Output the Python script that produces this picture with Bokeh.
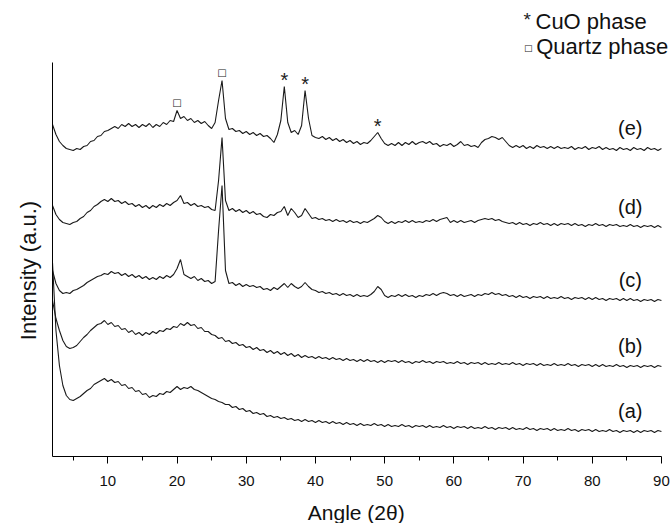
import numpy as np
from bokeh.plotting import figure
from bokeh.models import FixedTicker, ColumnDataSource, Label
from bokeh.core.properties import value
from bokeh.embed import file_html
from bokeh.resources import INLINE

# 2-theta sampling grid (degrees), 0.5 deg steps from 2 to 90
angle = np.arange(2.0, 90.0001, 0.5)

# Intensities (a.u.), one value per grid point
int_a = [194,126,91,71,61,57,56,58,60,63,
         66,68,72,74,76,78,75,77,74,75,
         71,72,68,69,65,66,62,63,59,61,
         60,63,62,65,64,67,70,67,69,68,
         70,67,66,64,62,60,58,57,55,54,
         52,52,49,50,47,48,45,46,43,44,
         42,43,40,41,39,40,38,39,37,38,
         36,37,35,37,35,36,34,36,34,35,
         33,35,33,34,32,34,32,33,31,33,
         31,32,31,33,31,32,30,32,30,31,
         30,32,30,31,29,31,30,31,29,31,
         29,30,29,31,29,30,28,30,29,30,
         28,30,28,29,28,30,28,29,27,29,
         28,29,27,29,27,28,27,29,27,28,
         26,28,27,28,26,28,26,27,26,28,
         26,27,25,27,26,27,25,27,25,26,
         25,27,25,26,24,26,25,26,24,26,
         24,26,25,26,24,26,25]

int_b = [156,138,126,116,110,108,109,111,115,119,
         122,126,129,132,133,136,132,134,130,131,
         127,128,124,126,122,124,121,124,122,125,
         123,126,125,128,127,130,129,133,131,134,
         131,132,128,129,125,125,122,121,118,119,
         115,116,113,114,111,112,109,110,107,109,
         106,107,104,106,103,105,102,104,101,103,
         100,102,99,101,99,100,98,100,98,99,
         97,99,97,98,96,98,96,97,95,97,
         95,97,95,96,94,96,94,96,95,96,
         94,96,94,95,93,95,94,96,94,95,
         93,95,94,95,93,94,93,95,93,94,
         92,94,93,94,92,94,92,93,92,94,
         92,93,92,94,92,93,91,93,92,93,
         91,93,91,92,91,93,91,92,91,93,
         91,92,90,92,91,92,90,92,90,92,
         90,91,90,92,90,91,89,91,90,91,
         89,91,90,91,89,91,90]

int_c = [186,173,166,163,164,163,166,167,169,171,
         174,176,178,180,181,183,182,185,183,184,
         181,183,180,182,179,181,178,180,177,179,
         177,180,178,181,179,182,188,197,182,180,
         178,180,176,178,175,176,173,175,226,271,
         186,173,174,171,173,170,172,170,171,169,
         170,167,168,166,169,167,170,173,169,173,
         170,168,170,174,170,167,166,164,165,163,
         164,162,163,161,163,161,162,160,162,160,
         161,160,162,165,170,167,161,159,161,160,
         162,160,162,160,161,159,161,160,162,161,
         163,161,163,164,163,161,162,160,162,160,
         161,162,160,162,161,163,162,164,162,163,
         161,162,160,161,159,161,159,160,158,160,
         159,160,158,160,158,159,158,160,158,159,
         157,159,158,159,157,159,157,159,157,158,
         156,158,157,158,156,158,156,158,156,157,
         155,157,156,157,155,157,156]

int_d = [251,242,237,234,233,232,234,235,238,240,
         244,246,250,252,255,257,255,258,255,256,
         253,255,252,253,250,252,249,251,248,251,
         249,252,250,253,251,254,256,261,253,254,
         251,253,250,251,249,250,247,246,276,319,
         256,246,248,245,247,244,246,243,245,242,
         243,240,239,242,241,244,245,250,241,248,
         244,239,241,248,243,238,239,237,238,236,
         237,235,237,235,236,234,236,234,235,233,
         235,234,236,238,241,239,235,233,235,233,
         235,234,236,234,236,234,235,234,236,235,
         237,235,237,238,239,234,236,234,236,234,
         235,236,234,236,237,238,237,238,236,237,
         235,234,233,234,232,234,232,233,231,233,
         232,234,232,233,231,233,231,233,232,233,
         231,233,231,232,230,232,231,233,231,232,
         230,232,231,232,230,231,230,232,230,231,
         229,231,230,231,229,231,229]

int_e = [332,322,315,311,308,307,306,308,307,310,
         311,315,316,320,321,325,326,328,330,328,
         332,330,333,330,332,329,332,330,333,329,
         332,330,334,332,336,335,346,338,340,336,
         338,334,336,333,335,331,328,334,356,376,
         338,327,328,325,326,323,325,322,324,321,
         323,320,321,318,314,322,336,370,334,324,
         326,322,331,366,338,321,319,318,320,317,
         319,316,318,315,317,314,316,313,315,312,
         314,313,316,320,324,318,313,311,313,311,
         314,311,314,312,315,312,314,315,313,315,
         312,313,310,312,311,313,310,312,315,311,
         312,310,311,309,314,317,318,320,319,317,
         319,315,311,309,311,309,311,308,310,308,
         311,309,310,308,310,308,310,308,309,308,
         310,307,309,308,310,307,309,308,310,307,
         309,307,308,306,309,307,308,306,309,307,
         308,306,309,307,308,306,308]

series = [int_a, int_b, int_c, int_d, int_e]
series_labels = ["(a)", "(b)", "(c)", "(d)", "(e)"]

# phase marks on pattern (e)
quartz_peaks = [20.0, 26.5]
cuo_peaks = [35.5, 38.5, 49.0]

x_ticks = [10, 20, 30, 40, 50, 60, 70, 80, 90]
x_minor = [5, 15, 25, 35, 45, 55, 65, 75, 85]

X_DATA = (2, 90)
Y_AXIS_TOP = 394

FONT = "Liberation Sans"
LINE = "#1a1a1a"
TXT = "#111111"

# the plot frame covers the whole page; axes are drawn at fixed data locations
p = figure(frame_width=670, frame_height=523, x_range=(-5.514, 91.31), y_range=(-67, 456),
           output_backend="svg", toolbar_location=None, min_border=0,
           background_fill_color="white", border_fill_color="white")
p.outline_line_color = None
p.grid.visible = False

for s in series:
    p.line(angle, s, line_color=LINE, line_width=1.1)

# series labels, a little above the right end of each pattern
lab_src = ColumnDataSource(dict(x=[85.5] * len(series), y=[s[-1] for s in series],
                                t=series_labels))
p.text(x="x", y="y", text="t", source=lab_src, text_font=value(FONT),
       text_font_size="20px", text_align="center", text_baseline="middle",
       y_offset=-21, text_color=TXT)

def peak_val(xv, s):
    i = int(np.argmin(np.abs(angle - xv)))
    return s[i]

qy = [peak_val(x, int_e) for x in quartz_peaks]
cy = [peak_val(x, int_e) for x in cuo_peaks]
q_src = ColumnDataSource(dict(x=quartz_peaks, y=qy))
p.text(x="x", y="y", text=value("\u25a1"), source=q_src, text_font=value("DejaVu Sans"),
       text_font_size="10px", text_align="center", text_baseline="bottom",
       y_offset=-3, text_color="#222222")
c_src = ColumnDataSource(dict(x=cuo_peaks, y=cy))
p.text(x="x", y="y", text=value("*"), source=c_src, text_font=value(FONT),
       text_font_size="20px", text_align="center", text_baseline="bottom",
       y_offset=4, text_color="#222222")

# legend (top right)
p.add_layout(Label(x=70.6, y=434, text="*", text_font=FONT, text_font_size="19px",
                   text_align="center", text_baseline="middle", y_offset=3,
                   text_color="#222222"))
p.add_layout(Label(x=71.8, y=435, text="CuO phase", text_font=FONT, text_font_size="22px",
                   text_align="left", text_baseline="middle", text_color=TXT))
p.add_layout(Label(x=70.75, y=409, text="\u25a1", text_font="DejaVu Sans", text_font_size="9px",
                   text_align="center", text_baseline="middle", text_color="#222222"))
p.add_layout(Label(x=71.9, y=410, text="Quartz phase", text_font=FONT, text_font_size="22px",
                   text_align="left", text_baseline="middle", text_color=TXT))

# axis titles
p.add_layout(Label(x=45.9, y=-56, text="Angle (2\u03b8)", text_font=FONT,
                   text_font_size="21px", text_align="center", text_baseline="middle",
                   text_color=TXT))
p.add_layout(Label(x=-1.5, y=186, text="Intensity (a.u.)", text_font=FONT,
                   text_font_size="22px", text_align="center", text_baseline="middle",
                   angle=np.pi / 2, text_color=TXT))

# axes
xa = p.xaxis[0]
xa.fixed_location = 0
xa.bounds = X_DATA
xa.ticker = FixedTicker(ticks=x_ticks, minor_ticks=x_minor)
xa.axis_line_color = "black"
xa.major_tick_out = 7
xa.major_tick_in = 0
xa.minor_tick_out = 4
xa.minor_tick_in = 0
xa.major_tick_line_color = "black"
xa.minor_tick_line_color = "black"
xa.major_label_text_font = FONT
xa.major_label_text_font_size = "15px"
xa.major_label_text_color = TXT
xa.major_label_standoff = 12

ya = p.yaxis[0]
ya.fixed_location = X_DATA[0]
ya.bounds = (0, Y_AXIS_TOP)
ya.ticker = FixedTicker(ticks=[])
ya.axis_line_color = "black"
ya.major_tick_out = 0
ya.minor_tick_out = 0
ya.major_label_text_font_size = "0px"

open("out.html", "w").write(file_html(p, INLINE))
